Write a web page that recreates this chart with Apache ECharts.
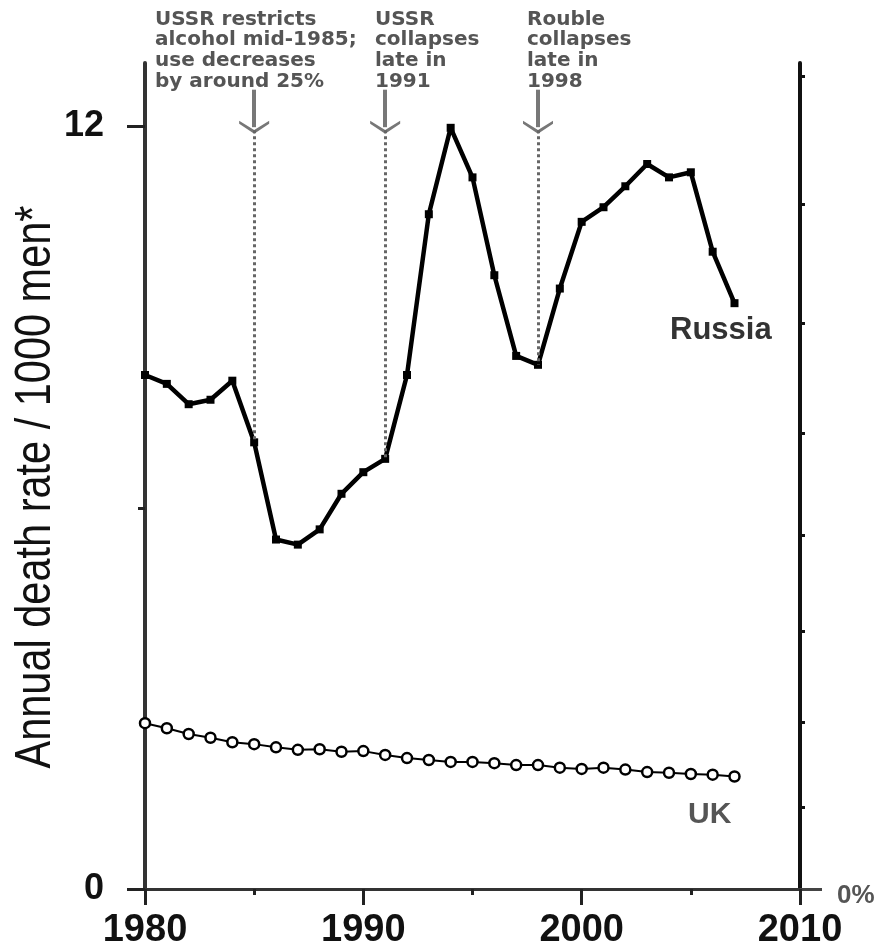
<!DOCTYPE html>
<html><head><meta charset="utf-8">
<script src="https://cdn.jsdelivr.net/npm/echarts@6/dist/echarts.min.js"></script>
<style>html,body{margin:0;padding:0;background:#fff}#c{width:893px;height:950px}</style>
</head><body><div id="c"></div>
<script>
const years = [1980,1981,1982,1983,1984,1985,1986,1987,1988,1989,1990,1991,1992,1993,1994,1995,1996,1997,1998,1999,2000,2001,2002,2003,2004,2005,2006,2007];
const russia = [8.09,7.95,7.63,7.70,8.00,7.03,5.50,5.42,5.66,6.22,6.56,6.77,8.09,10.62,11.98,11.20,9.66,8.39,8.25,9.45,10.50,10.73,11.06,11.41,11.20,11.28,10.03,9.22];
const uk = [2.61,2.53,2.44,2.38,2.31,2.28,2.23,2.19,2.20,2.16,2.17,2.11,2.06,2.03,2.00,2.00,1.98,1.95,1.95,1.91,1.89,1.91,1.88,1.84,1.83,1.81,1.80,1.77];
const eventYears = [1985, 1991, 1998];
const eventTexts = ['USSR restricts\nalcohol mid-1985;\nuse decreases\nby around 25%', 'USSR\ncollapses\nlate in\n1991', 'Rouble\ncollapses\nlate in\n1998'];
const xTickLabels = [1980, 1990, 2000, 2010];
const leftTickLabels = [0, 12];
const leftMinorTicks = [6];
const rightTicks = [0, 1.28, 2.63, 4.05, 5.56, 7.17, 8.91, 10.78, 12.79];
const rightTickLabel = '0%';
const seriesNames = ['Russia', 'UK'];
const yTitle = 'Annual death rate / 1000 men*';

const chart = echarts.init(document.getElementById('c'), null, {renderer: 'canvas'});
const chevron = 'path://M15,0 L30,11 L30,14.5 L15,4 L0,14.5 L0,11 Z';
const arrowTop = 12.58, arrowTip = 11.99;
const markData = [];
eventYears.forEach(function (yr) {
  markData.push([
    {coord: [yr, arrowTop], symbol: 'none', lineStyle: {color: '#777', width: 4, type: 'solid'}},
    {coord: [yr, arrowTip], symbol: chevron, symbolSize: [30, 13]}
  ]);
  markData.push([
    {coord: [yr, arrowTip - 0.05], symbol: 'none', lineStyle: {color: '#666', width: 3, type: [3, 3]}},
    {coord: [yr, russia[years.indexOf(yr)]], symbol: 'none'}
  ]);
});
const annX = [155, 375, 527];
const graphics = [
  {type: 'text', x: 36, y: 487, rotation: Math.PI / 2, scaleX: 0.83,
   style: {text: yTitle, font: '50px "Liberation Sans"', fill: '#111', textAlign: 'center', textVerticalAlign: 'middle'}},
  {type: 'text', x: 670, y: 330,
   style: {text: seriesNames[0], font: 'bold 31px "Liberation Sans"', fill: '#333', textAlign: 'left', textVerticalAlign: 'middle'}},
  {type: 'text', x: 688, y: 815,
   style: {text: seriesNames[1], font: 'bold 30px "Liberation Sans"', fill: '#555', textAlign: 'left', textVerticalAlign: 'middle'}}
];
eventTexts.forEach(function (t, i) {
  graphics.push({type: 'text', x: annX[i], y: 9,
    style: {text: t, font: 'bold 20px "DejaVu Sans"', lineHeight: 20.7, fill: '#555', textAlign: 'left', textVerticalAlign: 'top'}});
});

const baseY = {type: 'value', min: 0, max: 13, splitLine: {show: false}};
chart.setOption({
  animation: false,
  backgroundColor: '#fff',
  grid: {left: 145, right: 93, top: 63, bottom: 53},
  xAxis: {
    type: 'value', min: 1980, max: 2010, interval: 10,
    splitLine: {show: false},
    axisLine: {lineStyle: {color: '#333', width: 3}},
    axisTick: {length: 16, lineStyle: {color: '#222', width: 3}},
    minorTick: {show: true, splitNumber: 2, length: 6, lineStyle: {color: '#222', width: 3}},
    minorSplitLine: {show: false},
    axisLabel: {fontSize: 38, fontWeight: 'bold', color: '#111', margin: 23, fontFamily: 'Liberation Sans',
      customValues: xTickLabels, formatter: function (v) { return String(v); }}
  },
  yAxis: [
    Object.assign({}, baseY, {position: 'left',
      axisLine: {show: true, lineStyle: {color: '#333', width: 4}},
      axisTick: {show: true, customValues: leftTickLabels, length: 18, lineStyle: {color: '#222', width: 3}},
      axisLabel: {customValues: leftTickLabels, fontSize: 36, fontWeight: 'bold', color: '#111', margin: 41, fontFamily: 'Liberation Sans'}}),
    Object.assign({}, baseY, {position: 'left',
      axisLine: {show: false},
      axisTick: {show: true, customValues: leftMinorTicks, length: 7, lineStyle: {color: '#222', width: 3}},
      axisLabel: {show: false}}),
    Object.assign({}, baseY, {position: 'right',
      axisLine: {show: true, lineStyle: {color: '#111', width: 4}},
      axisTick: {show: true, customValues: rightTicks, length: 5, lineStyle: {color: '#111', width: 3}},
      axisLabel: {show: false}}),
    Object.assign({}, baseY, {position: 'right',
      axisLine: {show: false},
      axisTick: {show: true, customValues: [0], length: 22, lineStyle: {color: '#444', width: 3}},
      axisLabel: {customValues: [0], formatter: function () { return rightTickLabel; }, fontSize: 26, fontWeight: 'bold',
        color: '#555', margin: 37, verticalAlign: 'top', lineHeight: 14, fontFamily: 'Liberation Sans'}})
  ],
  series: [
    {name: seriesNames[0], type: 'line', yAxisIndex: 0, z: 4,
     data: years.map(function (y, i) { return [y, russia[i]]; }),
     symbol: 'rect', symbolSize: 8, showSymbol: true,
     itemStyle: {color: '#000'}, lineStyle: {color: '#000', width: 4.5},
     markLine: {silent: true, animation: false, symbol: ['none', 'none'], label: {show: false}, emphasis: {disabled: true}, data: markData}},
    {name: seriesNames[1], type: 'line', yAxisIndex: 0, z: 3,
     data: years.map(function (y, i) { return [y, uk[i]]; }),
     symbol: 'circle', symbolSize: 10, showSymbol: true,
     itemStyle: {color: '#fff', borderColor: '#000', borderWidth: 2.5}, lineStyle: {color: '#000', width: 2}}
  ],
  graphic: graphics
});
</script>
</body></html>
